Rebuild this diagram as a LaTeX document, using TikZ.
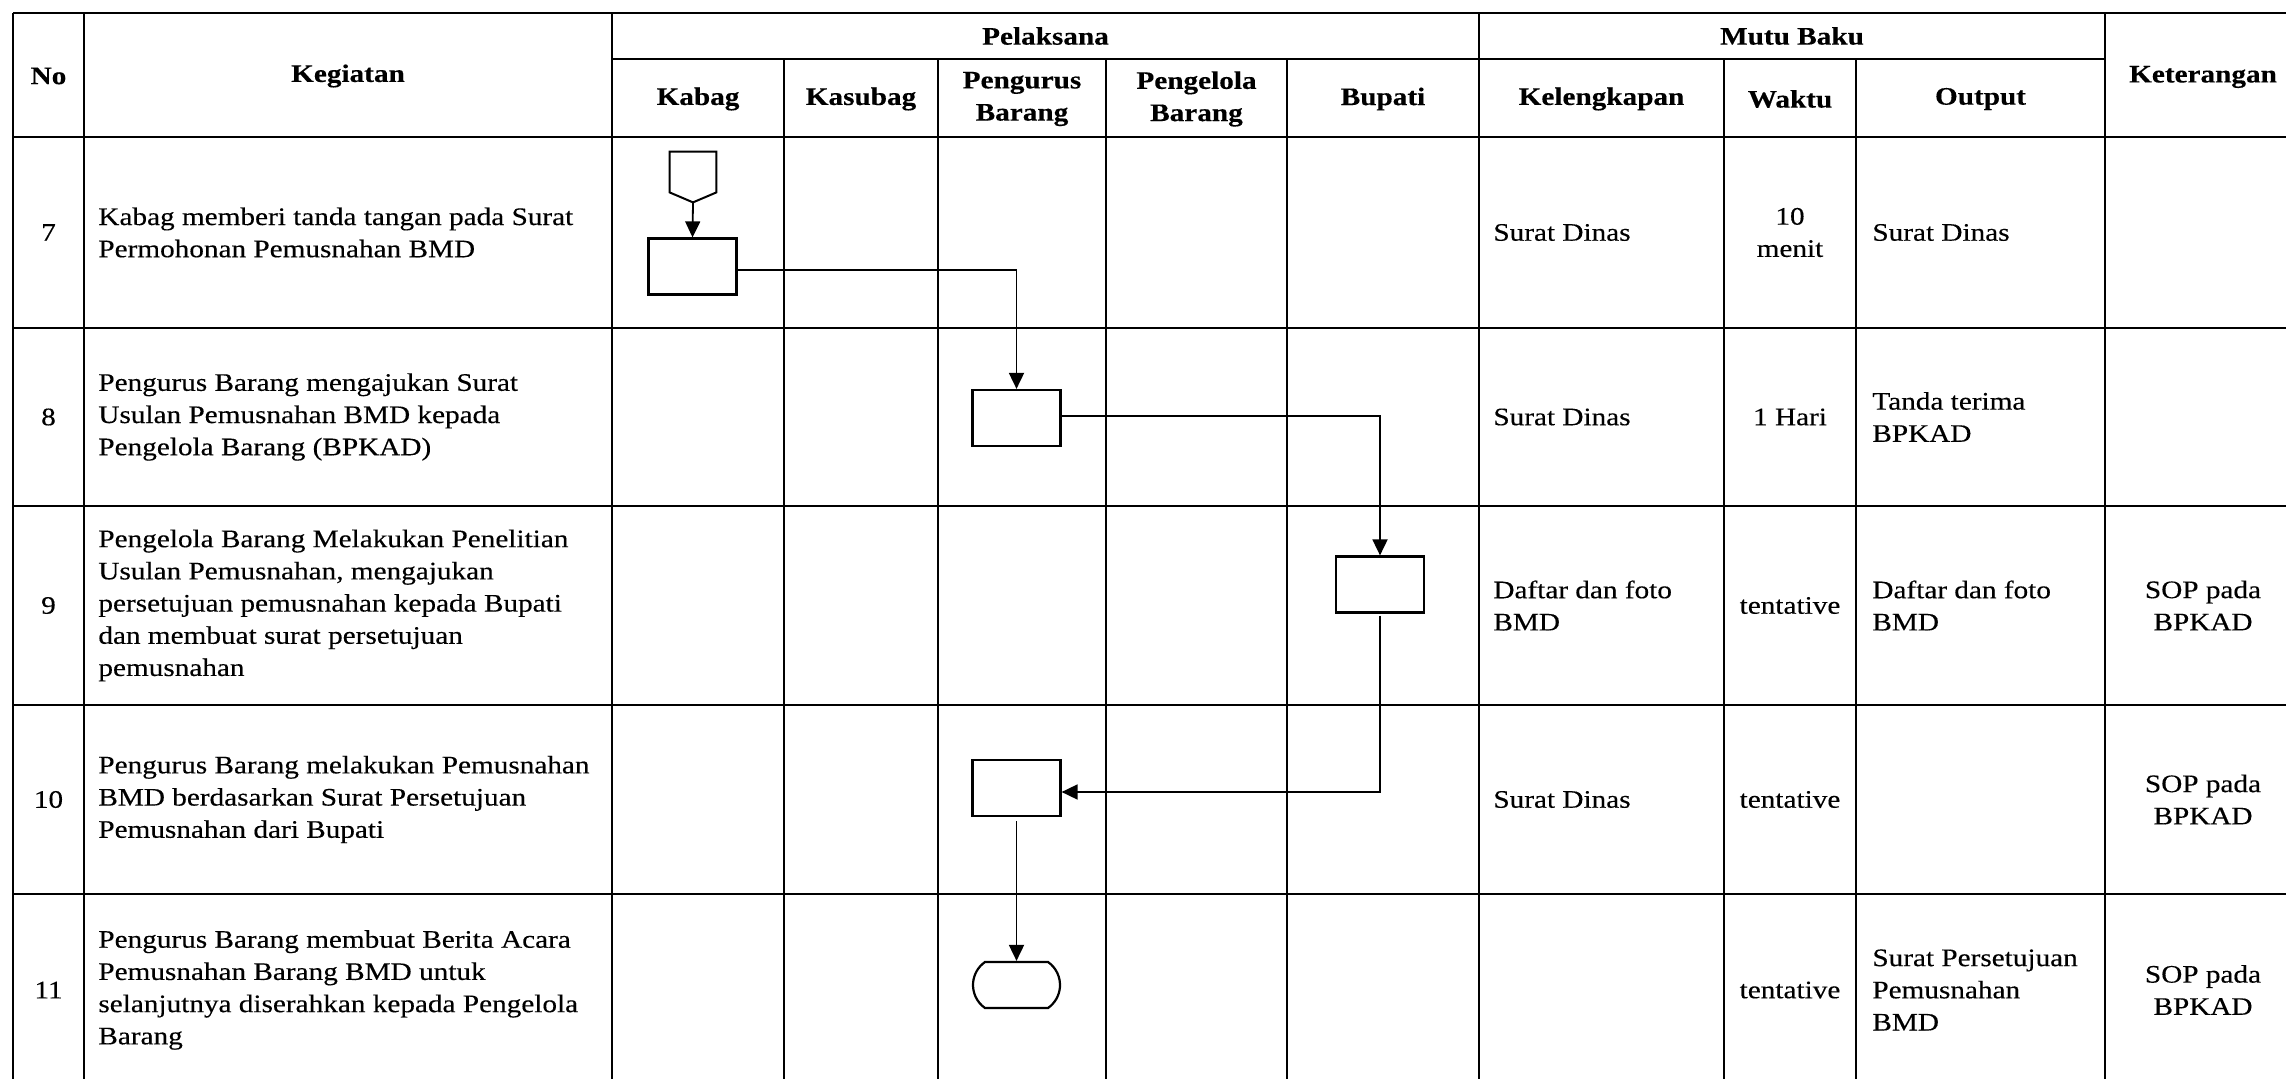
\documentclass[tikz,border=0pt]{standalone}
\usepackage{fontspec}
\setmainfont{Liberation Serif}[FakeStretch=1.16,
  UprightFeatures={FakeBold=0.3}, BoldFeatures={FakeBold=0.3}]
\usetikzlibrary{arrows.meta,shapes.misc}
\begin{document}
\begin{tikzpicture}[x=0.5pt,y=-0.5pt,
  hrule/.style={line width=1.3pt},
  vrule/.style={line width=1pt},
  txt/.style={inner sep=0pt, font=\fontsize{12.6}{16.1}\selectfont},
  hdr/.style={inner sep=0pt, align=center, font=\fontsize{12.6}{16.1}\selectfont\bfseries},
  lft/.style={txt, anchor=west, align=left},
  ctr/.style={txt, align=center},
  stepbox/.style={draw, line width=1.1pt, minimum width=44pt, minimum height=28pt, inner sep=0pt},
  flow/.style={line width=0.9pt},
  arr/.style={flow, -{Triangle[length=8pt,width=7.5pt]}}
]
\useasboundingbox (0,0) rectangle (2286,1079);
\clip (0,0) rectangle (2286,1079);

% ---- table rules ----
\draw[hrule] (13,13) -- (2301,13);
\draw[hrule] (612,59) -- (2105,59);
\foreach \yy in {137,328,506,705,894,1086}
  \draw[hrule] (13,\yy) -- (2301,\yy);
\draw[line width=1.3pt] (13,13) -- (13,1086);
\foreach \xx in {84,612,1479,2105,2301}
  \draw[vrule] (\xx,13) -- (\xx,1086);
\foreach \xx in {784,938,1106,1287,1724,1856}
  \draw[vrule] (\xx,59) -- (\xx,1086);

% ---- header ----
\node[hdr] (hno)   at (48.5,76)  {No};
\node[hdr] (hkeg)  at (348,76)   {Kegiatan};
\node[hdr] (hpel)  at (1045.5,36) {Pelaksana};
\node[hdr] (hmutu) at (1792,36)  {Mutu Baku};
\node[hdr] (hket)  at (2203,77)  {Keterangan};
\node[hdr] (hkabag) at (698,99)  {Kabag};
\node[hdr] (hkasub) at (861,99)  {Kasubag};
\node[hdr] (hpeng)  at (1022,99) {Pengurus\\Barang};
\node[hdr] (hpglo)  at (1196.5,99) {Pengelola\\Barang};
\node[hdr] (hbup)   at (1383,99) {Bupati};
\node[hdr] (hlkp)   at (1601.5,99) {Kelengkapan};
\node[hdr] (hwkt)   at (1790,99) {Waktu};
\node[hdr] (hout)   at (1980.5,99) {Output};

% ---- row 7 ----
\node[ctr] (n7) at (48.5,232.5) {7};
\node[lft] (k7) at (98,232.5) {Kabag memberi tanda tangan pada Surat\\Permohonan Pemusnahan BMD};
\node[lft] (l7) at (1493,232.5) {Surat Dinas};
\node[ctr] (w7) at (1790,232.5) {10\\menit};
\node[lft] (o7) at (1872,232.5) {Surat Dinas};

% ---- row 8 ----
\node[ctr] (n8) at (48.5,417) {8};
\node[lft] (k8) at (98,417) {Pengurus Barang mengajukan Surat\\Usulan Pemusnahan BMD kepada\\Pengelola Barang (BPKAD)};
\node[lft] (l8) at (1493,417) {Surat Dinas};
\node[ctr] (w8) at (1790,417) {1 Hari};
\node[lft] (o8) at (1872,417) {Tanda terima\\BPKAD};

% ---- row 9 ----
\node[ctr] (n9) at (48.5,605.5) {9};
\node[lft] (k9) at (98,605.5) {Pengelola Barang Melakukan Penelitian\\Usulan Pemusnahan, mengajukan\\persetujuan pemusnahan kepada Bupati\\dan membuat surat persetujuan\\pemusnahan};
\node[lft] (l9) at (1493,605.5) {Daftar dan foto\\BMD};
\node[ctr] (w9) at (1790,605.5) {tentative};
\node[lft] (o9) at (1872,605.5) {Daftar dan foto\\BMD};
\node[ctr] (s9) at (2203,605.5) {SOP pada\\BPKAD};

% ---- row 10 ----
\node[ctr] (n10) at (48.5,799.5) {10};
\node[lft] (k10) at (98,799.5) {Pengurus Barang melakukan Pemusnahan\\BMD berdasarkan Surat Persetujuan\\Pemusnahan dari Bupati};
\node[lft] (l10) at (1493,799.5) {Surat Dinas};
\node[ctr] (w10) at (1790,799.5) {tentative};
\node[ctr] (s10) at (2203,799.5) {SOP pada\\BPKAD};

% ---- row 11 ----
\node[ctr] (n11) at (48.5,990) {11};
\node[lft] (k11) at (98,990) {Pengurus Barang membuat Berita Acara\\Pemusnahan Barang BMD untuk\\selanjutnya diserahkan kepada Pengelola\\Barang};
\node[ctr] (w11) at (1790,990) {tentative};
\node[lft] (o11) at (1872,990) {Surat Persetujuan\\Pemusnahan\\BMD};
\node[ctr] (s11) at (2203,990) {SOP pada\\BPKAD};

% ---- flow symbols ----
\node[inner sep=0pt, minimum width=23pt, minimum height=25pt] (start) at (693,177) {};
\draw[line width=1pt] (start.north west) -- (start.north east) -- ([yshift=5pt]start.south east)
  -- (start.south) -- ([yshift=5pt]start.south west) -- cycle;
\node[stepbox] (b1) at (692.5,266.5) {};
\node[stepbox] (b2) at (1016.5,418) {};
\node[stepbox] (b3) at (1380,584.5) {};
\node[stepbox] (b4) at (1016.5,788) {};
\node[draw, line width=1.1pt, rounded rectangle, rounded rectangle arc length=110,
      minimum width=43.5pt, minimum height=23pt, inner sep=0pt] (fin) at (1016.5,985) {};

% ---- connectors ----
\draw[arr] (start.south) -- (b1.north);
\draw[arr] ([yshift=-1.75pt]b1.east) -| (b2.north);
\draw[arr] ([yshift=1pt]b2.east) -| (b3.north);
\draw[arr, shorten <=1pt] (b3.south) |- ([yshift=-2pt]b4.east);
\draw[arr, shorten <=2pt] (b4.south) -- (fin.north);
\end{tikzpicture}
\end{document}
